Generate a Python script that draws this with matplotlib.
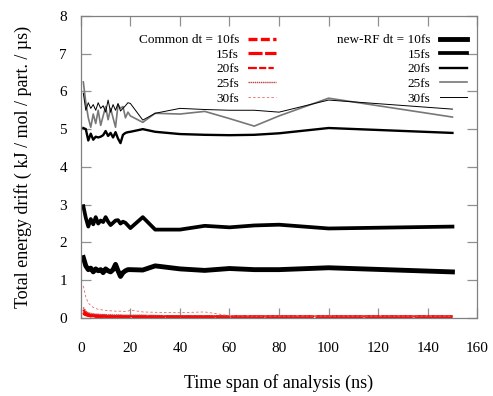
import matplotlib
matplotlib.use('Agg')

import matplotlib.pyplot as plt

plt.rcParams['font.family'] = ['Liberation Serif', 'DejaVu Serif']

# time span of analysis (ns)
span = list(range(1, 21)) + [25, 30, 40, 50, 60, 70, 80, 100, 150]

# common method, energy drift
common_10 = [0.15, 0.10, 0.08, 0.06, 0.05, 0.05, 0.04, 0.04, 0.04, 0.04,
             0.03, 0.03, 0.03, 0.03, 0.03, 0.03, 0.03, 0.03, 0.03, 0.03,
             0.02, 0.02, 0.02, 0.02, 0.02, 0.02, 0.02, 0.02, 0.02]
common_15 = [0.12, 0.09, 0.07, 0.06, 0.06, 0.05, 0.05, 0.05, 0.05, 0.04,
             0.04, 0.04, 0.04, 0.04, 0.04, 0.04, 0.04, 0.04, 0.04, 0.04,
             0.04, 0.04, 0.03, 0.03, 0.03, 0.03, 0.03, 0.03, 0.03]
common_20 = [0.22, 0.13, 0.10, 0.08, 0.08, 0.07, 0.07, 0.06, 0.06, 0.06,
             0.06, 0.06, 0.05, 0.05, 0.05, 0.05, 0.05, 0.05, 0.05, 0.05,
             0.05, 0.05, 0.04, 0.04, 0.04, 0.04, 0.04, 0.04, 0.04]
common_25 = [0.28, 0.18, 0.14, 0.12, 0.11, 0.10, 0.10, 0.09, 0.09, 0.09,
             0.08, 0.08, 0.08, 0.08, 0.08, 0.08, 0.07, 0.07, 0.07, 0.07,
             0.07, 0.06, 0.06, 0.06, 0.05, 0.05, 0.05, 0.05, 0.05]
common_30 = [0.85, 0.55, 0.40, 0.33, 0.28, 0.25, 0.23, 0.22, 0.21, 0.20,
             0.20, 0.19, 0.19, 0.18, 0.18, 0.18, 0.17, 0.17, 0.18, 0.21,
             0.16, 0.15, 0.14, 0.16, 0.06, 0.05, 0.05, 0.05, 0.05]

# new reaction-field method, energy drift
rf_10 = [1.60, 1.38, 1.28, 1.32, 1.22, 1.30, 1.25, 1.28, 1.20, 1.30,
         1.25, 1.22, 1.28, 1.42, 1.25, 1.10, 1.20, 1.25, 1.28, 1.28,
         1.27, 1.38, 1.30, 1.26, 1.31, 1.28, 1.28, 1.33, 1.22]
rf_15 = [2.96, 2.65, 2.42, 2.62, 2.48, 2.67, 2.50, 2.58, 2.54, 2.67,
         2.55, 2.46, 2.52, 2.58, 2.59, 2.50, 2.55, 2.52, 2.45, 2.38,
         2.67, 2.34, 2.34, 2.44, 2.40, 2.45, 2.47, 2.37, 2.42]
rf_20 = [5.03, 5.00, 4.70, 4.88, 4.72, 4.80, 4.78, 4.80, 4.84, 4.95,
         4.82, 4.90, 4.78, 4.92, 4.75, 4.63, 4.85, 4.90, 4.92, 4.93,
         5.00, 4.93, 4.87, 4.85, 4.84, 4.85, 4.89, 5.03, 4.90]
rf_25 = [6.25, 5.70, 5.30, 5.05, 5.40, 5.15, 5.50, 5.10, 5.35, 5.60,
         5.25, 5.55, 5.30, 5.05, 5.65, 5.55, 5.60, 5.30, 5.45, 5.35,
         5.18, 5.42, 5.40, 5.47, 5.28, 5.08, 5.35, 5.82, 5.32]
rf_30 = [5.95, 5.50, 5.70, 5.55, 5.65, 5.50, 5.70, 5.55, 5.62, 5.45,
         5.77, 5.45, 5.65, 5.50, 5.68, 5.48, 5.55, 5.62, 5.70, 5.68,
         5.24, 5.42, 5.55, 5.52, 5.50, 5.50, 5.45, 5.77, 5.53]

fig = plt.figure(figsize=(4.93, 3.96), dpi=100)
ax = fig.add_axes([0.164, 0.197, 0.804, 0.763])

h1 = []
h1 += ax.plot(span, common_10, color='#ff0000', lw=2.4, dashes=(2.7, 1.0), label='Common dt = 10fs')
h1 += ax.plot(span, common_15, color='#ff0000', lw=2.3, dashes=(4.4, 0.8), label='15fs')
h1 += ax.plot(span, common_20, color='#ff0000', lw=1.6, dashes=(4, 1, 3.2, 1, 2.4, 1), label='20fs')
h1 += ax.plot(span, common_25, color='#c04040', lw=1.0, dashes=(1, 0.5), label='25fs')
h1 += ax.plot(span, common_30, color='#e86a6a', lw=0.6, dashes=(3, 2.5), label='30fs')

h2 = []
h2 += ax.plot(span, rf_10, color='black', lw=3.5, label='new-RF dt = 10fs')
h2 += ax.plot(span, rf_15, color='black', lw=2.7, label='15fs')
h2 += ax.plot(span, rf_20, color='black', lw=1.7, label='20fs')
h2 += ax.plot(span, rf_25, color='#777777', lw=1.2, label='25fs')
h2 += ax.plot(span, rf_30, color='black', lw=0.7, label='30fs')

ax.set_xlim(0, 160)
ax.set_ylim(0, 8)
ax.set_xticks(range(0, 161, 20))
ax.set_yticks(range(0, 9))
ax.tick_params(direction='in', length=7, width=0.9, color='#909090',
               top=True, right=True, labelsize=11, pad=10)
ax.tick_params(axis='x', pad=17)
for s in ax.spines.values():
    s.set_color('#808080')
    s.set_linewidth(0.9)

ax.set_xlabel('Time span of analysis (ns)', fontsize=13, labelpad=14)
ax.set_ylabel('Total energy drift ( kJ / mol / part. / µs)', fontsize=13, labelpad=20)

leg1 = ax.legend(handles=h1, loc='upper right', bbox_to_anchor=(0.492, 0.94),
                 frameon=False, markerfirst=False, fontsize=9.5, handlelength=2.1,
                 handletextpad=0.7, labelspacing=0.18, borderpad=0, borderaxespad=0)
ax.add_artist(leg1)
ax.legend(handles=h2, loc='upper right', bbox_to_anchor=(0.975, 0.94),
          frameon=False, markerfirst=False, fontsize=9.5, handlelength=2.1,
          handletextpad=0.7, labelspacing=0.18, borderpad=0, borderaxespad=0)

fig.savefig('out.png', dpi=100)
